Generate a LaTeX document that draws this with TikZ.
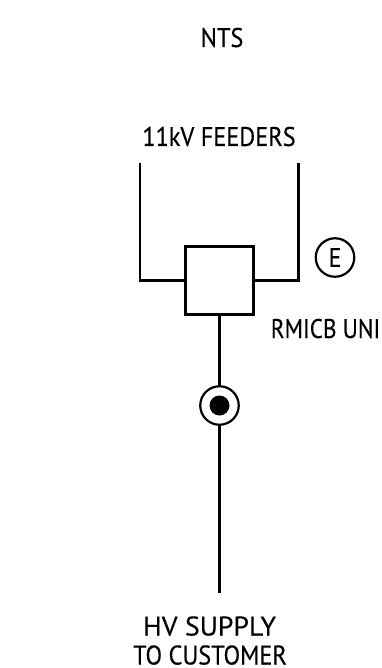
\documentclass[tikz,border=0pt]{standalone}
\usepackage{fontspec}
\setmainfont[FakeStretch=0.90,FakeBold=0.25]{PT Sans}
\newfontfamily\widerfont[FakeStretch=1.03,FakeBold=0.25]{PT Sans}
\newfontfamily\narrowfont[FakeStretch=0.86,FakeBold=0.25]{PT Sans}
\tikzset{
 wire/.style={line width=2.4pt,line cap=butt,line join=miter},
 lbl/.style={inner sep=0pt,font=\fontsize{27}{27}\selectfont,anchor=base,align=center},
 ring/.style={circle,draw,line width=2.2pt,inner sep=0pt,fill=white},
}
\begin{document}
\begin{tikzpicture}[x=1pt,y=-1pt]
\useasboundingbox (0,0) rectangle (381,668);
\node[lbl] (nts) at (222,47) {NTS};
\node[lbl] (feeders) at (219,146) {11kV FEEDERS};
\node[lbl,anchor=base east] (rmicb) at (380.5,338) {\narrowfont RMICB UNI};
\node[lbl] (hv) at (209.5,635.5) {\widerfont HV SUPPLY};
\node[lbl] (cust) at (210,664.5) {TO CUSTOMER};
\node[draw,wire,line width=2.6pt,minimum size=68pt,inner sep=0pt] (box) at (219.5,280.5) {};
\node[ring,minimum size=38.5pt,font=\fontsize{27}{27}\selectfont] (e) at (335,257.5) {E};
\node[ring,minimum size=38.5pt] (iso) at (219.5,405.5) {};
\node[circle,fill=black,minimum size=20pt,inner sep=0pt] (dot) at (iso) {};
\coordinate (l) at (140,163);
\coordinate (r) at (298.5,163);
\coordinate (end) at (219.5,593);
\draw[wire] (l) |- (box.west);
\draw[wire] (r) |- (box.east);
\draw[wire] (box.south) -- (iso.north);
\draw[wire] (iso.south) -- (end);
\end{tikzpicture}
\end{document}
